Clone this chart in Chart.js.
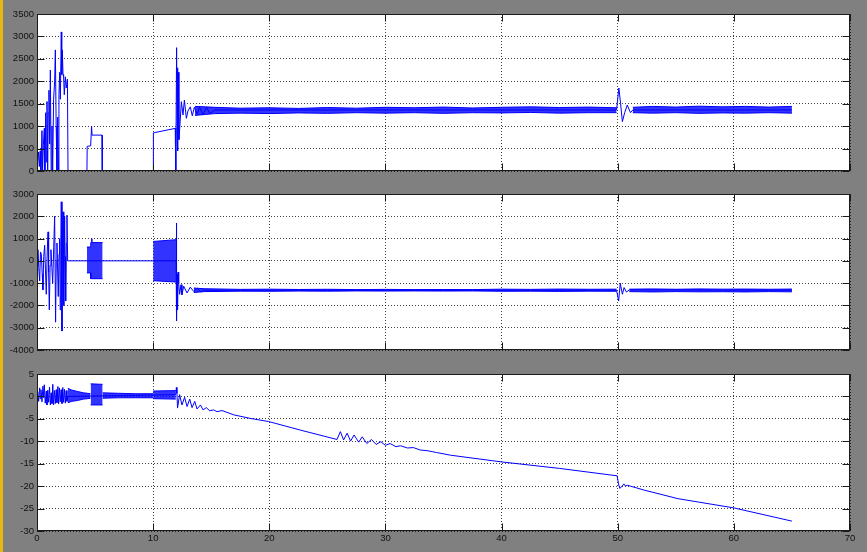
<!DOCTYPE html>
<html>
<head>
<meta charset="utf-8">
<script src="https://cdn.jsdelivr.net/npm/chart.js@4.4.1/dist/chart.umd.min.js"></script>
<style>
  html, body { margin: 0; padding: 0; }
  body { width: 867px; height: 552px; background: #808080; position: relative; overflow: hidden; }
  #edge { position: absolute; left: 0; top: 0; width: 3px; height: 552px; background: #e8b810; }
  canvas { position: absolute; left: 0; }
</style>
</head>
<body>
<div id="edge"></div>
<canvas id="scope1" width="867" height="180" style="top:0px"></canvas>
<canvas id="scope2" width="867" height="180" style="top:180px"></canvas>
<canvas id="scope3" width="867" height="192" style="top:360px"></canvas>
<script>
// ---- top trace ----
const t1 = [0, 0.14, 0.2, 0.28, 0.34, 0.43, 0.48, 0.55, 0.63, 0.68, 0.75, 0.8, 0.86, 0.92, 0.97, 1.03, 1.09, 1.15, 1.22, 1.29,
  1.35, 1.43, 1.52, 1.58, 1.65, 1.72, 1.78, 1.85, 1.89, 1.95, 2.01, 2.09, 2.13, 2.18, 2.24, 2.29, 2.35, 2.44, 2.52, 2.62,
  2.67, 4.3, 4.32, 4.62, 4.7, 4.74, 5.6, 5.62, 10.0, 10.02, 11.9, 11.95, 12.02, 12.06, 12.09, 12.13, 12.17, 12.22, 12.3, 12.43,
  12.57, 12.69, 12.86, 13.0, 13.2, 13.37, 13.55, 13.78, 14.0, 14.3, 14.6, 14.9, 15.3, 49.9, 50.1, 50.25, 50.4, 50.6, 50.82, 51.1, 51.3, 65.0];
const v1 = [50, 420, 100, 450, 0, 900, 0, 600, 950, 0, 1300, 200, 1550, 0, 1300, 1800, 600, 2250, 0, 1000,
  0, 1600, 2000, 2700, 1000, 0, 1200, 0, 1700, 2200, 1600, 3100, 2150, 2700, 2150, 2100, 1700, 2100, 1850, 2050,
  0, 0, 550, 560, 1000, 800, 800, 0, 0, 850, 950, 0, 2750, 1000, 2300, 450, 2200, 700, 1000, 1545,
  1250, 1580, 1175, 1340, 1430, 1230, 1420, 1270, 1420, 1260, 1410, 1280, 1360, 1360, 1850, 1500, 1100, 1300, 1470, 1300, 1360, 1360];
const band1aT = [13.6, 14.5, 15.3, 17.5, 20, 22.5, 25, 27.5, 30, 32.5, 35, 37.5, 40, 42.5, 45, 47.5, 49.9];
const band1aHi = [1440, 1430, 1420, 1400, 1410, 1395, 1415, 1400, 1420, 1410, 1425, 1405, 1420, 1430, 1415, 1425, 1410];
const band1aLo = [1240, 1260, 1280, 1290, 1280, 1295, 1285, 1300, 1290, 1300, 1285, 1300, 1295, 1305, 1290, 1300, 1300];
const band1bT = [51.3, 53, 55, 57, 59, 61, 63, 65];
const band1bHi = [1420, 1440, 1425, 1445, 1430, 1440, 1425, 1440];
const band1bLo = [1300, 1290, 1300, 1285, 1295, 1290, 1300, 1290];

// ---- middle trace ----
const t2 = [0, 0.08, 0.15, 0.23, 0.3, 0.37, 0.45, 0.51, 0.58, 0.66, 0.73, 0.8, 0.88, 0.95, 1.0, 1.06, 1.13, 1.2, 1.28, 1.35,
  1.44, 1.52, 1.6, 1.66, 1.72, 1.78, 1.83, 1.9, 1.95, 2.0, 2.05, 2.09, 2.15, 2.2, 2.24, 2.29, 2.32, 2.38, 2.42, 2.47,
  2.53, 2.58, 2.64, 11.98, 12.0, 12.03, 12.07, 12.1, 12.15, 12.2, 12.28, 12.4, 12.48, 12.63, 12.92, 13.2, 13.49, 13.8, 14.1, 14.4,
  49.9, 50.08, 50.22, 50.4, 50.55, 50.75, 51.0, 65.0];
const v2 = [0, 500, -300, -900, 400, 300, -600, -1300, 200, 700, -400, -1500, 400, 1300, -500, -2200, -200, 500, -300, -1000,
  600, 2000, -2750, 0, 800, -500, -1600, 300, 1000, -2200, 600, 2650, -3150, 1500, 2200, -1000, -2000, 2000, 200, -1800,
  800, 2050, 0, 0, 1700, -2700, -600, -2200, -500, -1000, -1500, -1070, -1520, -1140, -1440, -1180, -1370, -1230, -1390, -1320,
  -1320, -1800, -1000, -1500, -1200, -1400, -1300, -1320];
const band2aT = [4.3, 4.62, 4.63, 4.7, 4.72, 4.74, 5.65];
const band2aHi = [620, 620, 820, 820, 1000, 820, 820];
const band2aLo = [-540, -540, -800, -800, -800, -800, -800];
const band2bT = [10.0, 11.98];
const band2bHi = [870, 950];
const band2bLo = [-890, -950];
const band2cT = [13.5, 14.4, 17.5, 20, 22.5, 25, 27.5, 30, 32.5, 35, 37.5, 40, 42.5, 45, 47.5, 49.9];
const band2cHi = [-1220, -1250, -1280, -1270, -1285, -1275, -1290, -1280, -1290, -1285, -1290, -1270, -1280, -1265, -1275, -1270];
const band2cLo = [-1420, -1380, -1360, -1365, -1355, -1360, -1350, -1355, -1350, -1355, -1350, -1365, -1360, -1370, -1360, -1365];
const band2dT = [51.0, 53, 55, 57, 59, 61, 63, 65];
const band2dHi = [-1270, -1260, -1275, -1260, -1270, -1265, -1275, -1265];
const band2dLo = [-1380, -1395, -1380, -1390, -1385, -1395, -1380, -1390];

// ---- bottom trace ----
const t3 = [0, 0.06, 0.14, 0.23, 0.28, 0.34, 0.43, 0.51, 0.58, 0.63, 0.71, 0.8, 0.86, 0.93, 1.0, 1.08, 1.15, 1.22, 1.29, 1.36,
  1.43, 1.5, 1.58, 1.65, 1.72, 1.8, 1.86, 1.93, 2.0, 2.08, 2.15, 2.22, 2.29, 2.36, 2.44, 2.51, 2.58, 2.65, 11.95, 12.0,
  12.05, 12.1, 12.28, 12.48, 12.71, 12.92, 13.15, 13.35, 13.58, 13.78, 14.07, 14.3, 14.58, 14.87, 15.21, 15.5, 15.93, 16.93, 18.37, 19.95,
  22.67, 25.83, 26.12, 26.4, 26.7, 27.0, 27.3, 27.7, 28.0, 28.4, 28.8, 29.2, 29.6, 30.0, 30.4, 30.9, 31.3, 31.9, 32.4, 33.0,
  33.6, 34.4, 35.6, 40.0, 45.0, 49.95, 50.07, 50.18, 50.38, 50.53, 50.67, 50.82, 51.1, 52.3, 55.2, 60.0, 65.0];
const v3 = [0, 1.0, -1.1, 1.9, -0.5, 1.5, -1.2, 2.3, -0.3, 2.6, -1.5, 1.2, -1.9, 1.4, -1.3, 2.1, -1.9, 0.8, -1.6, 2.7,
  -1.9, 1.3, -1.6, 1.5, -1.4, 2.2, -1.7, 1.9, -1.2, 1.5, -1.6, 2.0, -1.3, 1.6, -1.5, 1.3, -1.1, 0, 0.4, 2.0,
  0.7, -2.6, 0.4, -1.9, -0.2, -2.25, -0.6, -2.5, -1.1, -2.8, -1.9, -3.0, -2.5, -3.2, -3.0, -3.4, -3.15, -4.1, -4.9, -5.6,
  -7.5, -9.6, -7.85, -9.7, -8.2, -9.95, -8.6, -10.2, -9.0, -10.5, -9.6, -10.7, -10.1, -10.9, -10.5, -11.2, -11.0, -11.5, -11.4, -11.95,
  -12.1, -12.5, -13.1, -14.6, -16.05, -17.7, -19.5, -20.5, -20.0, -19.5, -20.0, -19.8, -20.0, -20.9, -22.8, -24.85, -27.8];
const band3aT = [2.65, 3.0, 3.5, 4.0, 4.35, 4.6];
const band3aHi = [1.8, 1.4, 1.1, 0.8, 0.7, 0.6];
const band3aLo = [-1.4, -1.1, -0.9, -0.6, -0.5, -0.4];
const band3bT = [4.62, 5.65];
const band3bHi = [2.8, 2.7];
const band3bLo = [-1.9, -1.9];
const band3cT = [5.65, 7, 8.5, 10.0];
const band3cHi = [0.8, 0.7, 0.6, 0.6];
const band3cLo = [-0.4, -0.3, -0.3, -0.3];
const band3dT = [10.0, 11.95];
const band3dHi = [1.2, 1.3];
const band3dLo = [-0.5, -0.6];

const xTicks = [0, 10, 20, 30, 40, 50, 60, 70];

const BLUE = '#0000ff';
const FONT = { family: '"Liberation Sans", Arial, sans-serif', size: 9.5 };

function pts(ts, vs) {
  return ts.map(function (t, i) { return { x: t, y: vs[i] }; });
}

function band(ts, hi, lo) {
  return [
    { data: pts(ts, hi), borderColor: BLUE, borderWidth: 1, pointRadius: 0, fill: '+1', backgroundColor: 'rgba(0,0,255,0.8)' },
    { data: pts(ts, lo), borderColor: BLUE, borderWidth: 1, pointRadius: 0, fill: false }
  ];
}

// white plot box, solid frame and inward tick marks like a scope window
const scopeFrame = {
  id: 'scopeFrame',
  beforeDraw(chart) {
    const a = chart.chartArea, ctx = chart.ctx;
    ctx.save();
    ctx.fillStyle = '#ffffff';
    ctx.fillRect(a.left, a.top, a.right - a.left, a.bottom - a.top);
    ctx.restore();
  },
  afterDraw(chart) {
    const a = chart.chartArea, ctx = chart.ctx;
    const L = Math.round(a.left) + 0.5, R = Math.round(a.right) - 0.5;
    const T = Math.round(a.top) + 0.5, B = Math.round(a.bottom) - 0.5;
    const len = 7;
    ctx.save();
    ctx.strokeStyle = '#1a1a1a';
    ctx.lineWidth = 1;
    ctx.beginPath();
    chart.scales.x.ticks.forEach(function (tk) {
      const px = Math.round(chart.scales.x.getPixelForValue(tk.value)) + 0.5;
      ctx.moveTo(px, B); ctx.lineTo(px, B - len);
      ctx.moveTo(px, T); ctx.lineTo(px, T + len);
    });
    chart.scales.y.ticks.forEach(function (tk) {
      const py = Math.round(chart.scales.y.getPixelForValue(tk.value)) + 0.5;
      ctx.moveTo(L, py); ctx.lineTo(L + len, py);
      ctx.moveTo(R, py); ctx.lineTo(R - len, py);
    });
    ctx.stroke();
    ctx.strokeRect(L, T, R - L, B - T);
    ctx.restore();
  }
};

function makeScope(id, lineT, lineV, bands, yMin, yMax, yStep, showXLabels, xHeight) {
  const datasets = [{ data: pts(lineT, lineV), borderColor: BLUE, borderWidth: 1, pointRadius: 0, fill: false }];
  bands.forEach(function (b) { datasets.push.apply(datasets, band(b[0], b[1], b[2])); });
  return new Chart(document.getElementById(id).getContext('2d'), {
    type: 'line',
    data: { datasets: datasets },
    options: {
      responsive: false,
      animation: false,
      events: [],
      devicePixelRatio: 1,
      layout: { padding: { top: 14, right: 17, left: 0, bottom: 0 } },
      elements: { line: { tension: 0 } },
      plugins: { legend: { display: false }, tooltip: { enabled: false } },
      scales: {
        x: {
          type: 'linear', min: 0, max: 70,
          afterBuildTicks: function (s) { s.ticks = xTicks.map(function (v) { return { value: v }; }); },
          afterFit: function (s) { s.height = xHeight; },
          grid: { color: 'rgba(0,0,0,0.75)', drawTicks: false },
          border: { display: false, dash: [1, 2] },
          ticks: { display: showXLabels, color: '#111', font: FONT, padding: 2, maxRotation: 0, autoSkip: false,
                   callback: function (v) { return String(v); } }
        },
        y: {
          min: yMin, max: yMax,
          ticks: { stepSize: yStep, color: '#111', font: FONT, padding: 3, autoSkip: false,
                   callback: function (v) { return String(v); } },
          afterFit: function (s) { s.width = 37; },
          grid: { color: 'rgba(0,0,0,0.75)', drawTicks: false },
          border: { display: false, dash: [1, 2] }
        }
      }
    },
    plugins: [scopeFrame]
  });
}

makeScope('scope1', t1, v1, [[band1aT, band1aHi, band1aLo], [band1bT, band1bHi, band1bLo]], 0, 3500, 500, false, 9);
makeScope('scope2', t2, v2, [[band2aT, band2aHi, band2aLo], [band2bT, band2bHi, band2bLo], [band2cT, band2cHi, band2cLo], [band2dT, band2dHi, band2dLo]], -4000, 3000, 1000, false, 10);
makeScope('scope3', t3, v3, [[band3aT, band3aHi, band3aLo], [band3bT, band3bHi, band3bLo], [band3cT, band3cHi, band3cLo], [band3dT, band3dHi, band3dLo]], -30, 5, 5, true, 21);
</script>
</body>
</html>
